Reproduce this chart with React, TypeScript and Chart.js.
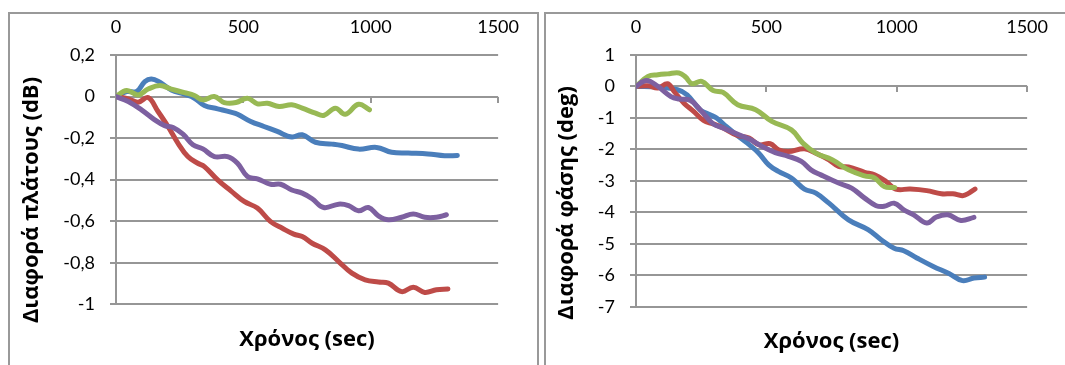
import React, { useEffect, useRef } from 'react';
import { Chart, registerables } from 'chart.js';

Chart.register(...registerables);

// ---------- Chart 1: amplitude difference (dB) vs time (sec) ----------
const ampBlueT = [0, 42, 81, 113, 139, 172, 217, 269, 308, 347, 399, 451, 477, 529, 581, 633, 690, 731, 783, 848, 887, 952, 1023, 1082, 1147, 1225, 1290, 1340];
const ampBlueV = [0, 0.024, 0.024, 0.072, 0.085, 0.069, 0.032, 0.011, -0.008, -0.043, -0.059, -0.075, -0.085, -0.12, -0.144, -0.168, -0.195, -0.184, -0.22, -0.229, -0.236, -0.253, -0.245, -0.268, -0.272, -0.276, -0.285, -0.284];

const ampRedT = [0, 48, 87, 126, 165, 204, 243, 282, 321, 347, 399, 451, 503, 555, 607, 653, 698, 731, 770, 822, 874, 926, 978, 1030, 1069, 1121, 1167, 1212, 1258, 1303];
const ampRedV = [0, -0.011, -0.027, -0.005, -0.072, -0.144, -0.224, -0.289, -0.321, -0.337, -0.401, -0.454, -0.505, -0.537, -0.602, -0.634, -0.662, -0.674, -0.706, -0.738, -0.794, -0.85, -0.882, -0.893, -0.898, -0.939, -0.918, -0.943, -0.93, -0.926];

const ampGreenT = [0, 42, 87, 126, 172, 217, 269, 308, 341, 386, 425, 471, 516, 555, 594, 640, 690, 731, 783, 815, 861, 900, 952, 995];
const ampGreenV = [0, 0.029, 0.008, 0.036, 0.053, 0.036, 0.019, 0.005, -0.016, 0, -0.029, -0.029, -0.008, -0.035, -0.032, -0.048, -0.04, -0.056, -0.08, -0.091, -0.056, -0.085, -0.037, -0.064];

const ampPurpleT = [0, 48, 100, 152, 191, 224, 263, 302, 341, 386, 438, 477, 516, 555, 607, 646, 690, 731, 770, 815, 874, 913, 952, 991, 1030, 1069, 1121, 1167, 1212, 1258, 1297];
const ampPurpleV = [0, -0.024, -0.064, -0.112, -0.14, -0.149, -0.181, -0.232, -0.252, -0.289, -0.289, -0.321, -0.385, -0.396, -0.422, -0.422, -0.45, -0.465, -0.492, -0.534, -0.518, -0.525, -0.55, -0.534, -0.574, -0.593, -0.581, -0.565, -0.581, -0.581, -0.569];

// ---------- Chart 2: phase difference (deg) vs time (sec) ----------
const phBlueT = [0, 84, 159, 196, 246, 284, 309, 346, 396, 434, 471, 509, 546, 596, 646, 690, 740, 815, 890, 940, 990, 1027, 1077, 1140, 1202, 1252, 1296, 1337];
const phBlueV = [0, -0.02, -0.105, -0.264, -0.741, -0.9, -1.005, -1.27, -1.61, -1.85, -2.12, -2.49, -2.7, -2.91, -3.26, -3.39, -3.71, -4.24, -4.55, -4.87, -5.14, -5.22, -5.45, -5.72, -5.95, -6.17, -6.09, -6.06];

const phRedT = [0, 46, 84, 121, 146, 184, 221, 259, 296, 334, 384, 434, 471, 515, 546, 584, 646, 690, 740, 777, 815, 877, 915, 959, 996, 1052, 1115, 1171, 1215, 1252, 1277, 1300];
const phRedV = [0, 0.02, -0.05, 0.086, -0.16, -0.53, -0.79, -1.08, -1.19, -1.32, -1.54, -1.64, -1.85, -1.82, -2.01, -2.07, -1.98, -2.12, -2.33, -2.54, -2.56, -2.73, -2.81, -3.02, -3.26, -3.26, -3.31, -3.41, -3.41, -3.47, -3.39, -3.26];

const phGreenT = [0, 46, 84, 121, 165, 190, 215, 252, 296, 334, 390, 459, 521, 596, 640, 690, 752, 815, 877, 915, 952, 992];
const phGreenV = [0, 0.32, 0.37, 0.4, 0.43, 0.3, 0.086, 0.16, -0.13, -0.19, -0.58, -0.74, -1.11, -1.38, -1.8, -2.12, -2.33, -2.65, -2.84, -2.91, -3.18, -3.21];

const phPurpleT = [0, 40, 84, 134, 165, 209, 246, 296, 334, 384, 434, 484, 534, 584, 634, 671, 709, 777, 827, 877, 921, 952, 990, 1027, 1065, 1115, 1152, 1196, 1246, 1296];
const phPurpleV = [0, 0.19, 0, -0.32, -0.4, -0.445, -0.74, -1.19, -1.32, -1.5, -1.67, -1.91, -2.1, -2.22, -2.38, -2.65, -2.81, -3.07, -3.23, -3.55, -3.79, -3.81, -3.71, -3.92, -4.08, -4.34, -4.15, -4.08, -4.26, -4.16];

// ---------- texts and axis ranges ----------
const xTitle = 'Χρόνος (sec)';
const ampTitle = 'Διαφορά πλάτους (dB)';
const phTitle = 'Διαφορά φάσης (deg)';
const xRange = [0, 1500, 500];
const ampRange = [-1, 0.2, 0.2];
const phRange = [-7, 1, 1];

const BLUE = '#4A7EBB';
const RED = '#BE4B48';
const GREEN = '#98B954';
const PURPLE = '#7D60A0';
const GRID = '#969696';
const TICK_FONT = { family: 'Lato, "Open Sans", sans-serif', size: 18 };
const TITLE_FONT = 'bold 22px "Open Sans", sans-serif';

const fmt = (v: number) => String(Math.round(v * 10) / 10).replace('.', ',');

const axisTitlePlugin = {
  id: 'axisTitles',
  afterDraw(chart: any, _args: any, opts: any) {
    const { ctx, chartArea } = chart;
    ctx.save();
    ctx.fillStyle = '#000';
    ctx.font = TITLE_FONT;
    ctx.textAlign = 'center';
    ctx.textBaseline = 'middle';
    ctx.fillText(opts.xText, (chartArea.left + chartArea.right) / 2, opts.xTitleY);
    ctx.translate(opts.yTitleX, opts.yTitleY);
    ctx.rotate(-Math.PI / 2);
    ctx.fillText(opts.yText, 0, 0);
    ctx.restore();
  },
};

function series(t: number[], v: number[], color: string, order: number) {
  return {
    data: t.map((x, i) => ({ x, y: v[i] })),
    borderColor: color,
    backgroundColor: color,
    borderWidth: 5,
    pointRadius: 0,
    tension: 0.4,
    fill: false,
    order,
    borderCapStyle: 'round',
    borderJoinStyle: 'round',
  };
}

function makeConfig(p: any) {
  return {
    type: 'line',
    data: { datasets: p.datasets },
    options: {
      responsive: false,
      animation: false,
      devicePixelRatio: 1,
      layout: { padding: { left: 0, top: 0, right: p.rightPad, bottom: p.bottomPad } },
      plugins: {
        legend: { display: false },
        tooltip: { enabled: false },
        axisTitles: { xText: xTitle, yText: p.yText, xTitleY: p.xTitleY, yTitleX: p.yTitleX, yTitleY: p.yTitleY },
      },
      scales: {
        x: {
          type: 'linear',
          position: 'top',
          min: xRange[0],
          max: xRange[1],
          ticks: { stepSize: xRange[2], padding: 17, font: TICK_FONT, color: '#000', callback: (v: number) => String(v) },
          grid: { display: false, drawTicks: false },
          border: { display: false },
          afterFit: (s: any) => { s.height = 41; },
        },
        x2: {
          type: 'linear',
          position: { y: 0 },
          min: xRange[0],
          max: xRange[1],
          ticks: { display: false, stepSize: xRange[2] },
          grid: { drawOnChartArea: false, drawTicks: true, tickLength: 6, color: GRID, lineWidth: 2 },
          border: { display: false },
        },
        y: {
          type: 'linear',
          position: 'left',
          min: p.yRange[0],
          max: p.yRange[1],
          ticks: { stepSize: p.yRange[2], padding: 15, font: TICK_FONT, color: '#000', callback: (v: number) => fmt(v) },
          grid: { color: GRID, lineWidth: 2, tickLength: 6 },
          border: { display: true, color: GRID, width: 2 },
          afterFit: (s: any) => { s.width = p.yWidth; },
        },
      },
    },
    plugins: [axisTitlePlugin],
  };
}

export default function App() {
  const leftRef = useRef<HTMLCanvasElement>(null);
  const rightRef = useRef<HTMLCanvasElement>(null);

  useEffect(() => {
    const left = new Chart(leftRef.current as HTMLCanvasElement, makeConfig({
      datasets: [
        series(ampBlueT, ampBlueV, BLUE, 3),
        series(ampRedT, ampRedV, RED, 2),
        series(ampGreenT, ampGreenV, GREEN, 1),
        series(ampPurpleT, ampPurpleV, PURPLE, 0),
      ],
      yRange: ampRange,
      yText: ampTitle,
      yWidth: 106,
      rightPad: 35.5,
      bottomPad: 59.7,
      xTitleY: 326,
      yTitleX: 22,
      yTitleY: 186,
    }) as any);
    const right = new Chart(rightRef.current as HTMLCanvasElement, makeConfig({
      datasets: [
        series(phBlueT, phBlueV, BLUE, 3),
        series(phRedT, phRedV, RED, 2),
        series(phGreenT, phGreenV, GREEN, 1),
        series(phPurpleT, phPurpleV, PURPLE, 0),
      ],
      yRange: phRange,
      yText: phTitle,
      yWidth: 90,
      rightPad: 29,
      bottomPad: 57.3,
      xTitleY: 328,
      yTitleX: 21,
      yTitleY: 189,
    }) as any);
    return () => {
      left.destroy();
      right.destroy();
    };
  }, []);

  return (
    <div style={{ position: 'absolute', left: 0, top: 0, width: 1065, height: 365, overflow: 'hidden', background: '#fff' }}>
      <div style={{ position: 'absolute', left: 8, top: 12, width: 531, height: 380, border: '2px solid #999', boxSizing: 'border-box' }} />
      <div style={{ position: 'absolute', left: 544, top: 12, width: 540, height: 380, border: '2px solid #999', boxSizing: 'border-box' }} />
      <canvas ref={leftRef} width={526} height={350} style={{ position: 'absolute', left: 10, top: 14, width: 526, height: 350 }} />
      <canvas ref={rightRef} width={519} height={350} style={{ position: 'absolute', left: 546, top: 14, width: 519, height: 350 }} />
    </div>
  );
}
